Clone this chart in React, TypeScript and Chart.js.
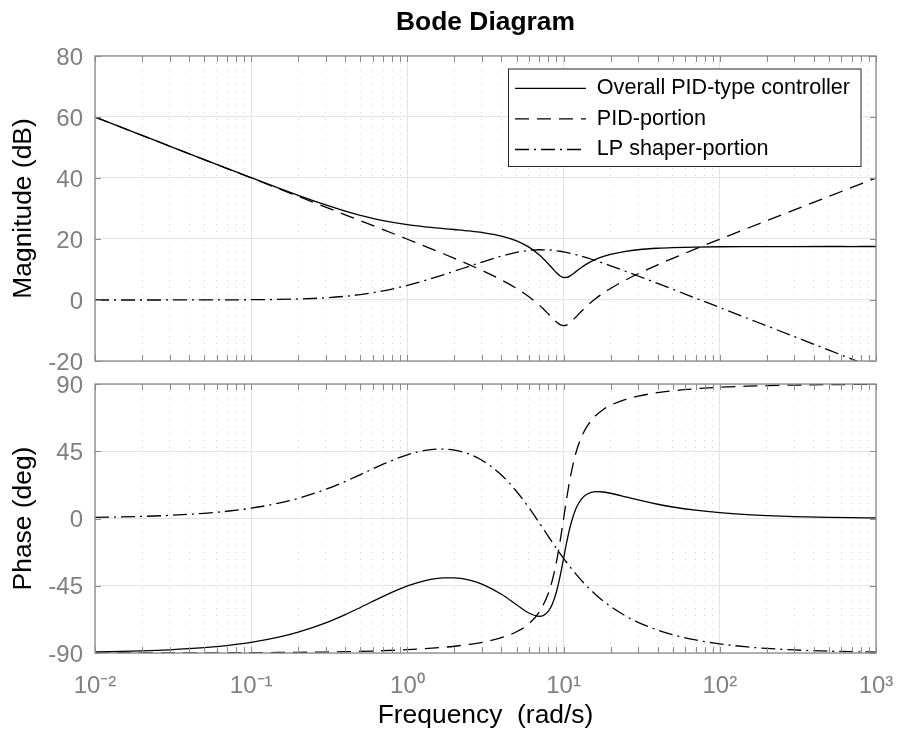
import React, { useEffect, useRef } from 'react';
import { Chart, registerables } from 'chart.js';

Chart.register(...registerables);

// ---------- data ----------
const frequency = [0.01, 0.02, 0.03, 0.05, 0.07, 0.1, 0.15, 0.2, 0.3, 0.4, 0.5, 0.7, 1, 1.3, 1.7, 2, 2.5, 3, 4, 5, 6, 7, 8, 8.5, 9, 9.5, 10, 10.5, 11, 12, 13, 14, 16, 18, 20, 25, 30, 40, 50, 70, 100, 150, 200, 300, 500, 700, 1000];

const magOverall = [60.0, 53.98, 50.47, 46.04, 43.14, 40.09, 36.67, 34.32, 31.18, 29.16, 27.78, 26.05, 24.71, 24.0, 23.43, 23.11, 22.64, 22.15, 20.97, 19.39, 17.34, 14.77, 11.82, 10.31, 8.91, 7.88, 7.37, 7.42, 7.89, 9.3, 10.66, 11.76, 13.31, 14.32, 14.99, 15.97, 16.48, 16.96, 17.17, 17.35, 17.45, 17.5, 17.51, 17.52, 17.54, 17.53, 17.54];
const magPID = [60.0, 53.98, 50.46, 46.02, 43.1, 40.0, 36.48, 33.98, 30.45, 27.94, 26.0, 23.06, 19.92, 17.58, 15.16, 13.65, 11.53, 9.71, 6.58, 3.79, 1.08, -1.71, -4.6, -6.0, -7.24, -8.1, -8.4, -8.13, -7.43, -5.55, -3.7, -2.11, 0.39, 2.29, 3.79, 6.58, 8.61, 11.53, 13.65, 16.74, 19.92, 23.49, 26.0, 29.53, 33.98, 36.9, 40.0];
const magLP = [0.0, 0.0, 0.01, 0.02, 0.04, 0.09, 0.19, 0.34, 0.73, 1.22, 1.78, 2.99, 4.79, 6.42, 8.27, 9.46, 11.11, 12.44, 14.39, 15.6, 16.26, 16.48, 16.42, 16.31, 16.15, 15.98, 15.77, 15.55, 15.32, 14.85, 14.36, 13.87, 12.92, 12.03, 11.2, 9.39, 7.87, 5.43, 3.52, 0.61, -2.47, -5.99, -8.49, -12.01, -16.44, -19.37, -22.46];

const phaseOverall = [-89.28, -88.57, -87.85, -86.42, -85.0, -82.88, -79.43, -76.08, -69.85, -64.32, -59.53, -52.11, -45.15, -41.53, -39.71, -39.71, -41.22, -43.87, -50.67, -57.69, -63.24, -65.5, -61.93, -56.85, -49.01, -38.55, -26.66, -15.21, -5.7, 6.76, 13.02, 16.05, 17.92, 17.72, 16.9, 14.47, 12.41, 9.54, 7.7, 5.55, 3.9, 2.6, 1.96, 1.3, 0.78, 0.56, 0.39];
const phasePID = [-89.98, -89.96, -89.93, -89.89, -89.85, -89.78, -89.67, -89.56, -89.35, -89.13, -88.91, -88.47, -87.8, -87.12, -86.19, -85.47, -84.21, -82.86, -79.74, -75.78, -70.39, -62.46, -49.82, -40.67, -29.05, -15.11, 0.0, 14.41, 26.67, 43.98, 54.4, 61.0, 68.71, 73.02, 75.78, 79.74, 81.89, 84.21, 85.47, 86.83, 87.8, 88.54, 88.91, 89.27, 89.56, 89.69, 89.78];
const phaseLP = [0.7, 1.39, 2.08, 3.47, 4.85, 6.9, 10.24, 13.48, 19.5, 24.81, 29.38, 36.36, 42.65, 45.59, 46.48, 45.76, 42.99, 38.99, 29.07, 18.09, 7.15, -3.04, -12.11, -16.18, -19.96, -23.44, -26.66, -29.62, -32.37, -37.22, -41.38, -44.95, -50.79, -55.3, -58.88, -65.27, -69.48, -74.67, -77.77, -81.28, -83.9, -85.94, -86.95, -87.97, -88.78, -89.13, -89.39];

const seriesLabels = ['Overall PID-type controller', 'PID-portion', 'LP shaper-portion'];
const xMajorTicks = [0.01, 0.1, 1, 10, 100, 1000];
const xMajorLabels = ['10⁻²', '10⁻¹', '10⁰', '10¹', '10²', '10³'];
const magTicks = [-20, 0, 20, 40, 60, 80];
const phaseTicks = [-90, -45, 0, 45, 90];
const chartTitle = 'Bode Diagram';
const xTitle = 'Frequency  (rad/s)';
const magTitle = 'Magnitude (dB)';
const phaseTitle = 'Phase (deg)';

// ---------- styles ----------
const FONT = "'Liberation Sans', Arial, Helvetica, sans-serif";
const TICK_COLOR = '#808080';
const MAJOR_GRID = '#e3e3e3';
const MINOR_GRID = '#d2d2d2';
const FRAME_COLOR = '#8a8a8a';
const LINE_WIDTH = 1.3;
const LINE_DASHES = [[], [14, 8], [14, 5, 2, 5]];
const LEGEND_FONT = 21.6;

function allXTicks() {
  const out: number[] = [];
  for (let d = -2; d < 3; d++) {
    for (let k = 1; k < 10; k++) out.push(k * Math.pow(10, d));
  }
  out.push(1000);
  return out;
}

function isMajor(v: any) {
  if (typeof v !== 'number' || v <= 0) return true;
  const l = Math.log10(v);
  return Math.abs(l - Math.round(l)) < 1e-6;
}

function xAxis(showLabels: boolean) {
  return {
    type: 'logarithmic',
    min: 0.01,
    max: 1000,
    position: 'bottom',
    afterBuildTicks: (s: any) => {
      s.ticks = allXTicks().map((v) => ({ value: v }));
    },
    afterFit: (s: any) => {
      s.height = showLabels ? 88 : 0;
      s.paddingLeft = 0;
      s.paddingRight = 0;
    },
    grid: {
      drawTicks: false,
      lineWidth: 1,
      color: (c: any) => (isMajor(c.tick && c.tick.value) ? MAJOR_GRID : MINOR_GRID),
    },
    border: {
      display: false,
      dash: (c: any) => (isMajor(c.tick && c.tick.value) ? [] : [1, 6]),
    },
    ticks: {
      display: showLabels,
      autoSkip: false,
      maxRotation: 0,
      minRotation: 0,
      padding: 19,
      color: TICK_COLOR,
      font: { size: 24 },
      callback: (v: any) => {
        const i = xMajorTicks.findIndex((m) => Math.abs(m - v) < m * 1e-6);
        return i >= 0 ? xMajorLabels[i] : '';
      },
    },
    title: {
      display: showLabels,
      text: xTitle,
      color: '#000',
      font: { size: 26.4 },
      padding: { top: 0, bottom: 9 },
    },
  };
}

function yAxis(min: number, max: number, ticks: number[], title: string) {
  return {
    type: 'linear',
    min,
    max,
    afterBuildTicks: (s: any) => {
      s.ticks = ticks.map((v) => ({ value: v }));
    },
    afterFit: (s: any) => {
      s.width = 95;
      s.paddingTop = 0;
      s.paddingBottom = 0;
    },
    grid: { drawTicks: false, color: MAJOR_GRID, lineWidth: 1 },
    border: { display: false },
    ticks: {
      padding: 12,
      color: TICK_COLOR,
      font: { size: 24 },
      labelOffset: 2,
      callback: (v: any) => String(v),
    },
    title: {
      display: true,
      text: title,
      color: '#000',
      font: { size: 26.4 },
      padding: { top: 8, bottom: 0 },
    },
  };
}

function makeDatasets(series: number[][]) {
  return series.map((vals, i) => ({
    label: seriesLabels[i],
    data: frequency.map((f, j) => ({ x: f, y: vals[j] })),
    borderColor: '#000',
    backgroundColor: '#000',
    borderWidth: LINE_WIDTH,
    borderDash: LINE_DASHES[i],
    pointRadius: 0,
    fill: false,
    cubicInterpolationMode: 'monotone',
  }));
}

// frame around the axes + inward tick marks (MATLAB style)
const framePlugin = {
  id: 'axesFrame',
  afterDraw(chart: any) {
    const { ctx, chartArea: a, scales } = chart;
    const TL = 6;
    ctx.save();
    ctx.strokeStyle = FRAME_COLOR;
    ctx.lineWidth = 1;
    ctx.beginPath();
    const xs = scales.x;
    xs.ticks.forEach((t: any) => {
      const px = Math.round(xs.getPixelForValue(t.value)) + 0.5;
      ctx.moveTo(px, a.bottom);
      ctx.lineTo(px, a.bottom - TL);
      ctx.moveTo(px, a.top);
      ctx.lineTo(px, a.top + TL);
    });
    const ys = scales.y;
    ys.ticks.forEach((t: any) => {
      const py = Math.round(ys.getPixelForValue(t.value)) + 0.5;
      ctx.moveTo(a.left, py);
      ctx.lineTo(a.left + TL, py);
      ctx.moveTo(a.right, py);
      ctx.lineTo(a.right - TL, py);
    });
    ctx.stroke();
    ctx.lineWidth = 1.3;
    ctx.strokeRect(a.left, a.top, a.right - a.left, a.bottom - a.top);
    ctx.restore();
  },
};

// legend placed inside the plot with a white box and a border
const legendBoxPlugin = {
  id: 'legendBox',
  afterLayout(chart: any) {
    const lg = chart.legend;
    if (!lg || !lg.legendItems) return;
    const ctx = chart.ctx;
    ctx.save();
    ctx.font = `${LEGEND_FONT}px ${FONT}`;
    const tw = Math.max(...lg.legendItems.map((it: any) => ctx.measureText(it.text).width));
    ctx.restore();
    const a = chart.chartArea;
    const frameRight = a.right - 15;
    const frameW = 6.5 + 71 + LEGEND_FONT / 2 + tw + 11;
    const frameLeft = frameRight - frameW;
    const frameTop = a.top + 13;
    const w = lg.width;
    const h = lg.height;
    lg.left = frameLeft - 2.5;
    lg.top = frameTop - 0.5;
    lg.right = lg.left + w;
    lg.bottom = lg.top + h;
    chart.$legendFrame = { x: frameLeft, y: frameTop, w: frameW, h: 97.5 };
  },
  afterDatasetsDraw(chart: any) {
    const f = chart.$legendFrame;
    const lg = chart.legend;
    if (!f || !lg) return;
    const ctx = chart.ctx;
    ctx.save();
    ctx.fillStyle = '#ffffff';
    ctx.fillRect(f.x, f.y, f.w, f.h);
    ctx.strokeStyle = '#262626';
    ctx.lineWidth = 1;
    ctx.strokeRect(f.x, f.y, f.w, f.h);
    ctx.restore();
    lg.draw();
  },
};

export default function App() {
  const topRef = useRef<HTMLCanvasElement>(null);
  const botRef = useRef<HTMLCanvasElement>(null);

  useEffect(() => {
    Chart.defaults.font.family = FONT;
    const top = new Chart(topRef.current as HTMLCanvasElement, {
      type: 'line',
      data: { datasets: makeDatasets([magOverall, magPID, magLP]) as any },
      options: {
        animation: false,
        responsive: false,
        maintainAspectRatio: false,
        events: [],
        layout: { padding: { left: 0, right: 23, top: 0, bottom: 19 } },
        scales: {
          x: xAxis(false) as any,
          y: yAxis(-20, 80, magTicks, magTitle) as any,
        },
        plugins: {
          title: {
            display: true,
            text: chartTitle,
            color: '#000',
            fullSize: false,
            font: { size: 26.4, weight: 'bold' },
            padding: { top: 6.8, bottom: 17.5 },
          },
          legend: {
            display: true,
            position: 'chartArea',
            align: 'start',
            labels: {
              usePointStyle: true,
              pointStyle: 'line',
              pointStyleWidth: 71,
              color: '#000',
              padding: 9,
              font: { size: LEGEND_FONT },
              generateLabels: (chart: any) =>
                chart.data.datasets.map((ds: any, i: number) => ({
                  text: ds.label,
                  datasetIndex: i,
                  hidden: false,
                  fillStyle: '#000',
                  strokeStyle: '#000',
                  fontColor: '#000',
                  lineWidth: LINE_WIDTH,
                  lineDash: ds.borderDash,
                  lineDashOffset: 0,
                  lineCap: 'butt',
                  pointStyle: 'line',
                  rotation: 0,
                })),
            },
          } as any,
          tooltip: { enabled: false },
        },
      },
      plugins: [legendBoxPlugin, framePlugin],
    } as any);

    const bottom = new Chart(botRef.current as HTMLCanvasElement, {
      type: 'line',
      data: { datasets: makeDatasets([phaseOverall, phasePID, phaseLP]) as any },
      options: {
        animation: false,
        responsive: false,
        maintainAspectRatio: false,
        events: [],
        layout: { padding: { left: 0, right: 23, top: 18, bottom: 0 } },
        scales: {
          x: xAxis(true) as any,
          y: yAxis(-90, 90, phaseTicks, phaseTitle) as any,
        },
        plugins: {
          title: { display: false },
          legend: { display: false },
          tooltip: { enabled: false },
        },
      },
      plugins: [framePlugin],
    } as any);

    return () => {
      top.destroy();
      bottom.destroy();
    };
  }, []);

  return (
    <div style={{ position: 'absolute', left: 0, top: 0, width: 899, height: 741, background: '#ffffff' }}>
      <canvas
        ref={topRef}
        width={899}
        height={380}
        style={{ position: 'absolute', left: 0, top: 0, width: 899, height: 380 }}
      />
      <canvas
        ref={botRef}
        width={899}
        height={375}
        style={{ position: 'absolute', left: 0, top: 366, width: 899, height: 375 }}
      />
    </div>
  );
}
